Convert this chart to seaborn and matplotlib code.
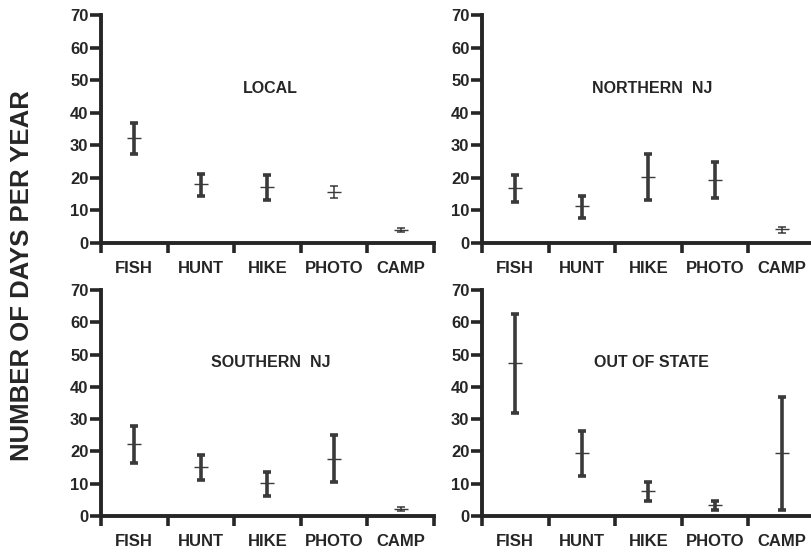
"""Four-panel range plot: days per year spent on outdoor activities by region."""

import matplotlib

matplotlib.use("Agg")

import matplotlib.pyplot as plt
import pandas as pd
import seaborn as sns

CATEGORIES = ["FISH", "HUNT", "HIKE", "PHOTO", "CAMP"]
Y_TICKS = [0, 10, 20, 30, 40, 50, 60, 70]

LOCAL_MEAN = [32.2, 18.0, 17.2, 15.7, 4.1]
LOCAL_LOW = [27.2, 14.5, 13.1, 13.8, 3.5]
LOCAL_HIGH = [36.8, 21.1, 20.9, 17.4, 4.7]

NORTH_MEAN = [17.0, 11.3, 20.3, 19.3, 4.2]
NORTH_LOW = [12.7, 7.6, 13.1, 13.9, 3.2]
NORTH_HIGH = [20.9, 14.4, 27.2, 24.8, 5.0]

SOUTH_MEAN = [22.3, 15.2, 10.1, 17.8, 2.3]
SOUTH_LOW = [16.5, 11.1, 6.1, 10.6, 1.5]
SOUTH_HIGH = [27.8, 19.0, 13.6, 25.0, 2.8]

OUT_MEAN = [47.5, 19.5, 7.8, 3.3, 19.5]
OUT_LOW = [31.8, 12.4, 4.5, 1.8, 1.8]
OUT_HIGH = [62.5, 26.2, 10.4, 4.7, 36.8]

PANELS = [
    ("LOCAL", LOCAL_MEAN, LOCAL_LOW, LOCAL_HIGH),
    ("NORTHERN  NJ", NORTH_MEAN, NORTH_LOW, NORTH_HIGH),
    ("SOUTHERN  NJ", SOUTH_MEAN, SOUTH_LOW, SOUTH_HIGH),
    ("OUT OF STATE", OUT_MEAN, OUT_LOW, OUT_HIGH),
]

# bars that were printed with a thin pen in the original
THIN_BARS = {
    "LOCAL": ["PHOTO", "CAMP"],
    "NORTHERN  NJ": ["CAMP"],
    "SOUTHERN  NJ": ["CAMP"],
}

# axes rectangles in figure fractions (left, bottom, width, height)
AXES_RECTS = [
    (0.1245, 0.5598, 0.4106, 0.4130),
    (0.5943, 0.5598, 0.4106, 0.4130),
    (0.1245, 0.0652, 0.4106, 0.4094),
    (0.5943, 0.0652, 0.4106, 0.4094),
]

BAR_COLOR = "#3a3a3a"


def panel_frame(mean, low, high):
    """Long table with low, mean and high per activity, so median = mean and min/max = range."""
    rows = []
    for cat, m, lo, hi in zip(CATEGORIES, mean, low, high):
        for value in (lo, m, hi):
            rows.append({"activity": cat, "days": value})
    return pd.DataFrame(rows)


def draw_panel(ax, title, mean, low, high):
    data = panel_frame(mean, low, high)
    sns.pointplot(
        data=data,
        x="activity",
        y="days",
        order=CATEGORIES,
        estimator="median",
        errorbar=lambda v: (v.min(), v.max()),
        capsize=0.12,
        linestyle="none",
        marker="_",
        markersize=10,
        markeredgewidth=1.0,
        color=BAR_COLOR,
        err_kws={"linewidth": 2.6, "color": BAR_COLOR, "solid_capstyle": "butt"},
        ax=ax,
    )

    err_lines = [line for line in ax.lines if len(line.get_xdata()) == 8]
    for cat, line in zip(CATEGORIES, err_lines):
        if cat in THIN_BARS.get(title, []):
            line.set_linewidth(1.1)

    ax.set_xlim(-0.5, 4.5)
    ax.set_ylim(0, 70)
    ax.set_yticks(Y_TICKS)
    ax.set_xticks([i - 0.5 for i in range(len(CATEGORIES) + 1)])
    ax.set_xticklabels([])
    ax.set_xticks(range(len(CATEGORIES)), minor=True)
    ax.set_xticklabels(CATEGORIES, minor=True, fontsize=12, fontweight="bold")
    ax.tick_params(axis="x", which="major", direction="out", length=7, width=2.6)
    ax.tick_params(axis="x", which="minor", length=0, pad=13)
    ax.tick_params(axis="y", direction="out", length=8, width=2.6, pad=1,
                   labelsize=12)
    for label in ax.get_yticklabels():
        label.set_fontweight("bold")
    ax.set_xlabel("")
    ax.set_ylabel("")
    sns.despine(ax=ax)
    ax.spines["left"].set_linewidth(2.8)
    ax.spines["bottom"].set_linewidth(2.8)
    ax.patch.set_alpha(0)

    ax.text(2.05, 47.5, title, ha="center", va="center", fontsize=11.5,
            fontweight="bold")


sns.set_style("ticks")
plt.rcParams["font.family"] = ["Liberation Sans", "DejaVu Sans"]

fig = plt.figure(figsize=(8.11, 5.52), dpi=100)
for rect, (title, mean, low, high) in zip(AXES_RECTS, PANELS):
    ax = fig.add_axes(rect)
    draw_panel(ax, title, mean, low, high)

fig.text(0.027, 0.5, "NUMBER OF DAYS PER YEAR", rotation=90, ha="center",
         va="center", fontsize=18.5, fontweight="bold")

fig.savefig("out.png", dpi=100)
